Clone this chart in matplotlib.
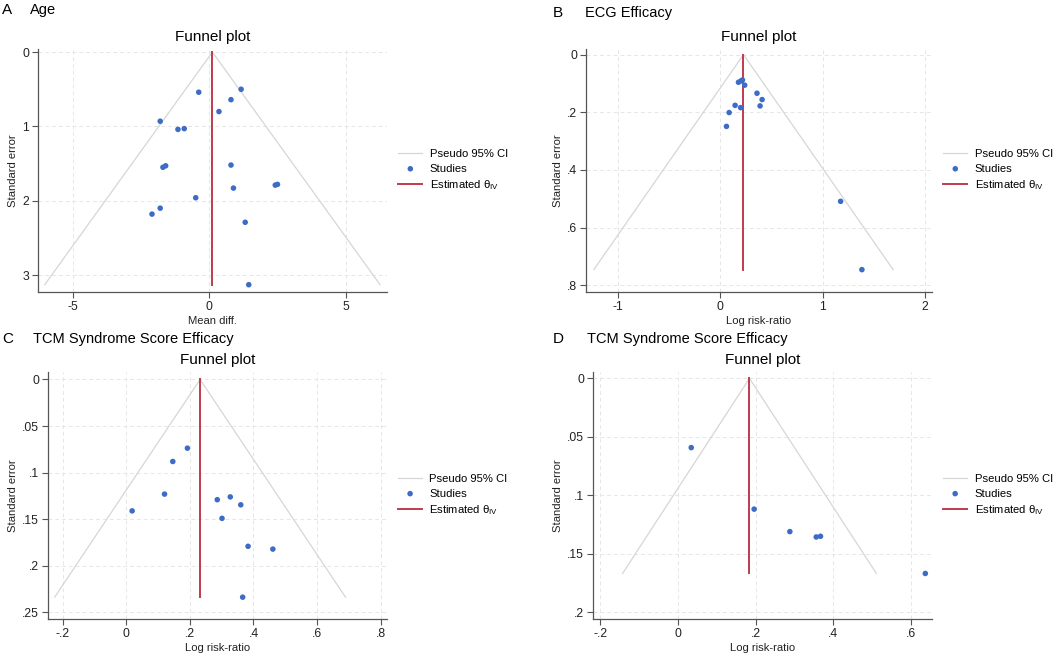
import matplotlib
matplotlib.use("Agg")
import matplotlib.pyplot as plt
import numpy as np

plt.rcParams["font.family"] = ["Liberation Sans", "DejaVu Sans"]
plt.rcParams["mathtext.fontset"] = "custom"
plt.rcParams["mathtext.rm"] = "Liberation Sans"
plt.rcParams["mathtext.it"] = "Liberation Sans:italic"

# panel A: age (mean difference)
age_effect = [-0.39, 1.16, 0.79, 0.35, -1.80, -1.15, -0.92, 0.79, -1.70, -1.60,
              0.88, 2.41, 2.49, -0.50, -1.80, -2.10, 1.31, 1.44]
age_se = [0.54, 0.50, 0.64, 0.80, 0.93, 1.04, 1.03, 1.52, 1.55, 1.53,
          1.83, 1.79, 1.78, 1.96, 2.10, 2.18, 2.29, 3.13]
age_theta = 0.11

# panel B: ECG efficacy (log risk-ratio)
ecg_effect = [0.179, 0.202, 0.218, 0.24, 0.36, 0.41, 0.39, 0.146, 0.20,
              0.088, 0.062, 1.177, 1.385]
ecg_se = [0.096, 0.0915, 0.088, 0.106, 0.134, 0.156, 0.178, 0.176, 0.184,
          0.201, 0.249, 0.509, 0.746]
ecg_theta = 0.228

# panel C: TCM syndrome score efficacy
tcm1_effect = [0.192, 0.146, 0.120, 0.018, 0.286, 0.327, 0.360, 0.301,
               0.383, 0.461, 0.366]
tcm1_se = [0.0737, 0.088, 0.123, 0.141, 0.129, 0.126, 0.1345, 0.149,
           0.179, 0.182, 0.2336]
tcm1_theta = 0.232

# panel D: TCM syndrome score efficacy
tcm2_effect = [0.034, 0.196, 0.288, 0.356, 0.367, 0.637]
tcm2_se = [0.0592, 0.1118, 0.131, 0.1356, 0.135, 0.1668]
tcm2_theta = 0.184

panels = [
    ("A", "Age", "Mean diff.", age_effect, age_se, age_theta,
     (-6.27, 6.5), (3.23, -0.04), [-5, 0, 5], [0, 1, 2, 3],
     ["-5", "0", "5"], ["0", "1", "2", "3"]),
    ("B", "ECG Efficacy", "Log risk-ratio", ecg_effect, ecg_se, ecg_theta,
     (-1.31, 2.07), (0.824, -0.019), [-1, 0, 1, 2], [0, 0.2, 0.4, 0.6, 0.8],
     ["-1", "0", "1", "2"], ["0", ".2", ".4", ".6", ".8"]),
    ("C", "TCM Syndrome Score Efficacy", "Log risk-ratio", tcm1_effect, tcm1_se,
     tcm1_theta, (-0.247, 0.82), (0.257, -0.008),
     [-0.2, 0, 0.2, 0.4, 0.6, 0.8], [0, 0.05, 0.1, 0.15, 0.2, 0.25],
     ["-.2", "0", ".2", ".4", ".6", ".8"], ["0", ".05", ".1", ".15", ".2", ".25"]),
    ("D", "TCM Syndrome Score Efficacy", "Log risk-ratio", tcm2_effect, tcm2_se,
     tcm2_theta, (-0.219, 0.654), (0.2057, -0.0054),
     [-0.2, 0, 0.2, 0.4, 0.6], [0, 0.05, 0.1, 0.15, 0.2],
     ["-.2", "0", ".2", ".4", ".6"], ["0", ".05", ".1", ".15", ".2"]),
]

# axes rectangles in figure fractions
rects = [
    [0.0359, 0.554, 0.3296, 0.371],
    [0.5534, 0.554, 0.3267, 0.371],
    [0.0453, 0.055, 0.3200, 0.377],
    [0.5600, 0.055, 0.3200, 0.377],
]
label_pos = [(0.002, 0.985, 0.028), (0.522, 0.980, 0.552),
             (0.002, 0.482, 0.031), (0.522, 0.483, 0.554)]

blue = "#3d6cc6"
red = "#c0394f"
grey = "#d6d6d6"
spine = "#555555"

fig = plt.figure(figsize=(10.59, 6.55), dpi=100)

for (letter, name, xlab, eff, se, theta, xl, yl, xt, yt, xtl, ytl), rect, lp in zip(
        panels, rects, label_pos):
    ax = fig.add_axes(rect)
    se_max = max(se)
    fx = [theta - 1.96 * se_max, theta, theta + 1.96 * se_max]
    fy = [se_max, 0, se_max]
    ax.plot(fx, fy, color=grey, lw=0.9, label="Pseudo 95% CI", zorder=2)
    ax.scatter(eff, se, s=16, color=blue, label="Studies", zorder=4,
               edgecolors="none")
    ax.plot([theta, theta], [0, se_max], color=red, lw=1.4,
            label="Estimated θ$_{\\mathrm{IV}}$", zorder=3)

    ax.set_xlim(*xl)
    ax.set_ylim(*yl)
    ax.set_xticks(xt)
    ax.set_xticklabels(xtl)
    ax.set_yticks(yt)
    ax.set_yticklabels(ytl)
    ax.grid(True, ls=(0, (4, 3)), color="#e6e6e6", lw=0.7)
    ax.set_axisbelow(True)
    for s in ["top", "right"]:
        ax.spines[s].set_visible(False)
    for s in ["left", "bottom"]:
        ax.spines[s].set_color(spine)
        ax.spines[s].set_linewidth(0.9)
    ax.tick_params(colors=spine, labelcolor="#222222", labelsize=8.8,
                   length=4, width=0.8, pad=2.5)
    ax.set_xlabel(xlab, fontsize=8.1, color="#222222", labelpad=2)
    ax.set_ylabel("Standard error", fontsize=8.1, color="#222222", labelpad=3)
    ax.set_title("Funnel plot", fontsize=11, pad=6)

    ax.legend(loc="center left", bbox_to_anchor=(1.003, 0.5), frameon=False,
              fontsize=8.1, handlelength=2.15, handletextpad=0.65,
              labelspacing=0.4, scatterpoints=1)

    fig.text(lp[0], lp[1], letter, fontsize=11, va="center", ha="left")
    fig.text(lp[2], lp[1], name, fontsize=10.5, va="center", ha="left")

fig.savefig("out.png", dpi=100)
